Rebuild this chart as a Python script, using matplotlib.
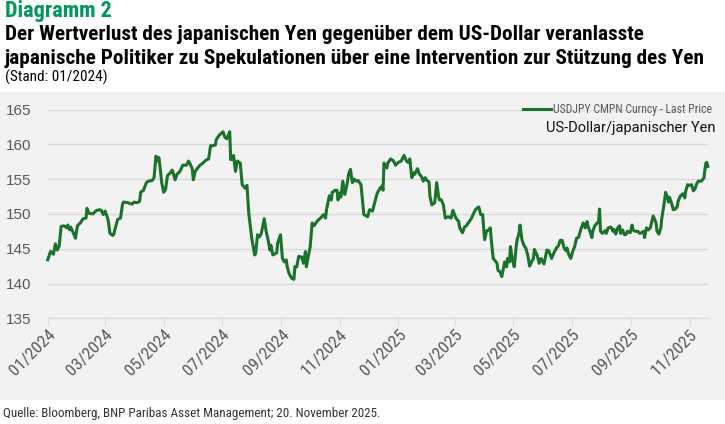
import numpy as np
import pandas as pd
import matplotlib
matplotlib.use("Agg")
import matplotlib.pyplot as plt
import matplotlib.dates as mdates
from matplotlib.patches import Rectangle

# Tage seit 01.01.2024 und USDJPY-Kurs
days = [0, 3, 6, 8, 10, 12, 14, 17, 20, 21, 23, 24, 27, 29, 31, 34, 37, 40, 41, 43,
        47, 51, 54, 56, 58, 60, 63, 65, 68, 69, 71, 73, 76, 78, 79, 84, 88, 90, 93, 96,
        97, 100, 103, 105, 109, 111, 113, 115, 116, 117, 119, 121, 123, 125, 128, 130,
        133, 135, 138, 141, 145, 147, 149, 151, 152, 154, 156, 159, 162, 165, 168, 170,
        172, 175, 176, 179, 183, 185, 187, 190, 191, 193, 194, 196, 198, 201, 203, 206,
        208, 210, 213, 216, 217, 219, 221, 223, 226, 228, 230, 232, 233, 235, 239, 240,
        243, 245, 247, 249, 250, 252, 255, 257, 258, 260, 262, 265, 267, 269, 270, 272,
        274, 276, 278, 281, 283, 284, 286, 288, 290, 291, 294, 296, 297, 300, 302, 303,
        305, 306, 308, 310, 311, 313, 314, 316, 318, 320, 322, 324, 327, 329, 330, 334,
        336, 339, 342, 344, 347, 349, 350, 351, 354, 355, 358, 361, 363, 366, 369, 372,
        374, 376, 378, 380, 382, 383, 386, 388, 390, 392, 394, 396, 398, 399, 401, 404,
        406, 408, 409, 411, 413, 415, 418, 421, 423, 426, 429, 430, 433, 435, 437, 440,
        442, 445, 447, 450, 452, 454, 456, 458, 460, 462, 463, 465, 468, 469, 470, 472,
        474, 476, 477, 479, 480, 482, 483, 484, 485, 487, 489, 490, 492, 493, 495, 497,
        499, 501, 503, 505, 507, 508, 511, 513, 515, 518, 520, 521, 523, 526, 528, 531,
        533, 535, 537, 539, 541, 542, 544, 546, 548, 550, 552, 554, 556, 557, 559, 561,
        563, 564, 566, 568, 569, 571, 573, 575, 576, 577, 579, 582, 583, 585, 588, 590,
        591, 593, 595, 597, 598, 600, 602, 604, 605, 608, 610, 611, 613, 616, 618, 620,
        622, 623, 625, 627, 629, 632, 633, 635, 636, 638, 640, 641, 643, 645, 647, 648,
        649, 651, 653, 655, 657, 658, 660, 663, 665, 666, 668, 670, 672, 674, 676, 677,
        679, 682, 684, 685, 686, 687, 688, 689]
usdjpy = [143.4, 144.6, 144.2, 145.7, 144.8, 145.4, 148.2, 148.3, 148.0, 148.4, 147.7,
          148.1, 147.2, 146.5, 148.3, 148.7, 149.3, 149.4, 150.8, 150.1, 150.0, 150.5,
          150.6, 150.5, 149.9, 150.4, 149.2, 147.2, 146.9, 147.1, 148.2, 149.2, 149.4,
          151.3, 151.7, 151.6, 151.4, 151.7, 151.6, 151.8, 153.1, 153.4, 154.5, 154.7,
          154.8, 155.2, 158.3, 157.6, 158.1, 157.1, 154.5, 153.1, 153.5, 155.5, 155.9,
          156.3, 154.9, 155.7, 156.1, 157.0, 157.0, 157.6, 157.1, 156.4, 154.9, 156.1,
          156.5, 157.0, 157.3, 157.7, 157.9, 159.8, 159.8, 159.9, 160.7, 161.3, 161.8,
          161.0, 160.8, 161.8, 157.8, 157.9, 158.4, 156.1, 157.6, 157.3, 154.2, 153.7,
          154.1, 149.9, 146.5, 144.1, 144.3, 147.0, 146.7, 147.2, 149.3, 147.5, 146.3,
          144.8, 145.5, 144.1, 144.4, 145.8, 147.0, 143.6, 143.1, 143.4, 142.4, 141.4,
          140.7, 140.6, 142.4, 142.4, 143.9, 143.8, 142.9, 144.6, 142.4, 143.9, 145.3,
          148.7, 148.3, 148.9, 149.2, 149.3, 149.6, 149.9, 149.4, 150.6, 152.6, 152.0,
          153.1, 153.4, 153.4, 152.0, 153.0, 152.4, 154.7, 152.8, 153.3, 154.7, 155.7,
          156.4, 154.5, 155.0, 154.7, 154.8, 154.2, 151.3, 149.9, 149.6, 150.6, 150.4,
          152.0, 153.0, 153.7, 154.0, 153.4, 157.3, 156.6, 157.3, 157.9, 157.6, 157.0,
          157.4, 157.6, 158.4, 157.7, 157.4, 157.9, 155.2, 155.9, 155.7, 156.5, 155.7,
          155.4, 154.7, 155.2, 154.8, 154.6, 152.5, 151.3, 151.6, 154.5, 152.5, 152.0,
          152.0, 151.3, 149.4, 149.6, 149.4, 150.5, 149.4, 148.9, 148.0, 147.3, 148.1,
          148.3, 148.9, 149.3, 150.2, 150.7, 151.0, 149.9, 149.9, 146.3, 147.5, 147.7,
          148.0, 146.3, 143.6, 143.1, 142.9, 141.9, 141.7, 141.0, 142.4, 143.1, 142.4,
          143.6, 143.1, 145.3, 144.3, 143.4, 142.4, 145.3, 146.3, 147.2, 148.4, 146.3,
          145.5, 145.1, 144.1, 142.5, 143.1, 143.6, 144.9, 144.0, 142.9, 143.6, 142.8,
          144.1, 144.8, 144.7, 143.6, 144.3, 145.1, 145.4, 146.2, 146.2, 145.1, 144.7,
          145.1, 144.1, 143.6, 144.6, 145.3, 146.5, 146.6, 147.5, 148.0, 148.7, 148.0,
          148.9, 148.2, 147.5, 146.6, 147.5, 148.3, 148.6, 148.9, 150.7, 147.5, 147.2,
          147.6, 147.2, 148.0, 148.1, 147.5, 147.8, 147.1, 148.0, 148.3, 147.2, 147.7,
          147.0, 147.1, 147.5, 147.3, 148.4, 147.7, 147.5, 147.5, 147.2, 147.3, 147.5,
          146.6, 148.0, 147.7, 148.0, 149.7, 149.4, 148.7, 147.5, 147.1, 148.0, 149.4,
          151.1, 153.1, 152.3, 151.7, 152.4, 151.6, 150.6, 150.7, 151.0, 151.8, 152.5,
          152.9, 152.3, 153.3, 154.2, 154.1, 154.2, 153.3, 153.7, 154.2, 154.7, 154.7,
          155.0, 155.2, 156.4, 157.3, 157.4, 156.8]

y_ticks = [135, 140, 145, 150, 155, 160, 165]
x_ticks = pd.date_range("2024-01-01", "2025-11-01", freq="2MS")

dates = pd.Timestamp("2024-01-01") + pd.to_timedelta(days, unit="D")

cond = ["Roboto Condensed", "Saira SemiCondensed", "DejaVu Sans"]
green = "#1b722b"
grey_txt = "#595959"

fig = plt.figure(figsize=(7.25, 4.24), dpi=100)
fig.patch.set_facecolor("white")
fig.patches.append(Rectangle((0, 1 - 400 / 424), 1, (400 - 92) / 424,
                             transform=fig.transFigure, facecolor="#f2f2f2",
                             edgecolor="none", zorder=-10))

ax = fig.add_axes([47.7 / 725, 1 - 318.3 / 424, (707.8 - 47.7) / 725, (318.3 - 109.5) / 424])
ax.set_facecolor("none")

ax.plot(dates, usdjpy, color=green, lw=2.2, solid_joinstyle="round",
        label="USDJPY CMPN Curncy - Last Price", zorder=3, clip_on=False)

ax.set_ylim(135, 165)
ax.set_xlim(pd.Timestamp("2024-01-01"), pd.Timestamp("2025-11-20"))
ax.set_yticks(y_ticks)
ax.set_xticks(x_ticks)
ax.xaxis.set_major_formatter(mdates.DateFormatter("%m/%Y"))
ax.grid(axis="y", color="#d9d9d9", lw=1)
ax.set_axisbelow(True)
for s in ["top", "right", "left"]:
    ax.spines[s].set_visible(False)
ax.spines["bottom"].set_color("#d9d9d9")
ax.tick_params(axis="y", length=0, pad=11.5, labelsize=11, labelcolor=grey_txt)
ax.tick_params(axis="x", length=5, color="#d9d9d9", pad=1, labelcolor=grey_txt)
for lab in ax.get_yticklabels():
    lab.set_family(["Liberation Sans", "DejaVu Sans"])
for lab in ax.get_xticklabels():
    lab.set_family(cond)
    lab.set_fontsize(12.5)
    lab.set_rotation(45)
    lab.set_ha("right")
    lab.set_rotation_mode("anchor")

leg = fig.legend(loc="center right", bbox_to_anchor=(712 / 725, 1 - 110 / 424),
                 frameon=False, handlelength=2.3, handletextpad=0.2, borderpad=0,
                 borderaxespad=0, prop={"family": cond, "size": 8.5})
for t in leg.get_texts():
    t.set_color(grey_txt)
fig.text(715 / 725, 1 - 128 / 424, "US-Dollar/japanischer Yen", ha="right", va="center",
         fontsize=10.5, family=["Roboto", "DejaVu Sans"], color="#111111")

fig.text(5 / 725, 1 - 11 / 424, "Diagramm 2", ha="left", va="center", fontsize=16,
         fontweight="bold", family=cond, color="#00965e")
fig.text(5 / 725, 1 - 34 / 424, "Der Wertverlust des japanischen Yen gegenüber dem US-Dollar veranlasste",
         ha="left", va="center", fontsize=15.3, fontweight="bold", family=cond, color="black")
fig.text(5 / 725, 1 - 58 / 424, "japanische Politiker zu Spekulationen über eine Intervention zur Stützung des Yen",
         ha="left", va="center", fontsize=15.3, fontweight="bold", family=cond, color="black")
fig.text(5 / 725, 1 - 77 / 424, "(Stand: 01/2024)", ha="left", va="center", fontsize=11,
         family=cond, color="black")
fig.text(3 / 725, 1 - 413 / 424, "Quelle: Bloomberg, BNP Paribas Asset Management; 20. November 2025.",
         ha="left", va="center", fontsize=9.4, family=cond, color="#333333")

fig.savefig("out.png", dpi=100, facecolor=fig.get_facecolor())
